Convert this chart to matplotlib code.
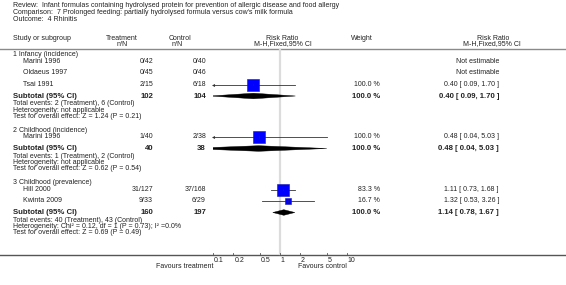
import numpy as np
import matplotlib
matplotlib.use("Agg")
import matplotlib.pyplot as plt
from matplotlib.patches import Polygon

# ---------------- data ----------------
title_lines = [
    "Review:  Infant formulas containing hydrolysed protein for prevention of allergic disease and food allergy",
    "Comparison:  7 Prolonged feeding: partially hydrolysed formula versus cow's milk formula",
    "Outcome:  4 Rhinitis",
]
groups = ["1 Infancy (incidence)", "2 Childhood (incidence)", "3 Childhood (prevalence)"]

study_names = ["Marini 1996", "Oldaeus 1997", "Tsai 1991", "Marini 1996", "Hill 2000", "Kwinta 2009"]
study_group = [0, 0, 0, 1, 2, 2]
treat_events = [0, 0, 2, 1, 31, 9]
treat_total = [42, 45, 15, 40, 127, 33]
ctrl_events = [0, 0, 6, 2, 37, 6]
ctrl_total = [40, 46, 18, 38, 168, 29]
study_rr = [np.nan, np.nan, 0.40, 0.48, 1.11, 1.32]
study_lo = [np.nan, np.nan, 0.09, 0.04, 0.73, 0.53]
study_hi = [np.nan, np.nan, 1.70, 5.03, 1.68, 3.26]
study_weight = [np.nan, np.nan, 100.0, 100.0, 83.3, 16.7]

sub_treat_total = [102, 40, 160]
sub_ctrl_total = [104, 38, 197]
sub_treat_events = [2, 1, 40]
sub_ctrl_events = [6, 2, 43]
sub_rr = [0.40, 0.48, 1.14]
sub_lo = [0.09, 0.04, 0.78]
sub_hi = [1.70, 5.03, 1.67]
sub_weight = [100.0, 100.0, 100.0]
heterogeneity = ["Heterogeneity: not applicable",
                 "Heterogeneity: not applicable",
                 "Heterogeneity: Chi² = 0.12, df = 1 (P = 0.73); I² =0.0%"]
test_z = [1.24, 0.62, 0.69]
test_p = [0.21, 0.54, 0.49]

ticks = [0.1, 0.2, 0.5, 1, 2, 5, 10]
tick_labels = ["0.1", "0.2", "0.5", "1", "2", "5", "10"]

# ---------------- layout ----------------
W, H = 566, 285
group_y = [55, 130, 183]
study_y = [61.5, 73, 84.5, 137, 189.5, 201]
sub_y = [96, 148.5, 212.5]
info_dy = [7.5, 14, 20.5]

FONT = "Liberation Sans"
fs = 5.0
fsb = 5.6
col = "#222222"

fig = plt.figure(figsize=(W / 100, H / 100), dpi=100)
fig.patch.set_facecolor("white")
ax = fig.add_axes([0, 0, 1, 1])
ax.set_xlim(0, W)
ax.set_ylim(H, 0)
ax.axis("off")

def t(x, y, s, ha="left", bold=False, size=None, **kw):
    ax.text(x, y, s, ha=ha, va="center", fontsize=size or (fsb if bold else fs),
            fontweight="bold" if bold else "normal", family=FONT, color=col, **kw)

for i, line in enumerate(title_lines):
    t(13, 5.5 + 7 * i, line)

# headers
t(13, 38, "Study or subgroup")
t(122, 38, "Treatment", ha="center")
t(122, 44, "n/N", ha="center")
t(180, 38, "Control", ha="center")
t(177, 44, "n/N", ha="center")
t(282, 38, "Risk Ratio", ha="center")
t(283, 44, "M-H,Fixed,95% CI", ha="center")
t(362, 38, "Weight", ha="center")
t(493, 38, "Risk Ratio", ha="center")
t(492, 44, "M-H,Fixed,95% CI", ha="center")
ax.plot([0, W], [49, 49], color="#8a8a8a", lw=1.0)
ax.plot([0, W], [254.5, 254.5], color="#555555", lw=1.0)

# forest axes on log scale
x0, x1 = 213.33, 346.67
fx = fig.add_axes([x0 / W, 0, (x1 - x0) / W, 1])
fx.set_xscale("log")
fx.set_xlim(0.1, 10)
fx.set_ylim(H, 0)
fx.axis("off")
fx.patch.set_alpha(0)

fx.plot([1, 1], [49.5, 254], color="#dcdcdc", lw=1.6, zorder=1)

for g in range(3):
    t(13, group_y[g], groups[g])

for i, name in enumerate(study_names):
    y = study_y[i]
    t(23, y, name)
    t(153, y, f"{treat_events[i]}/{treat_total[i]}", ha="right")
    t(206, y, f"{ctrl_events[i]}/{ctrl_total[i]}", ha="right")
    if np.isnan(study_rr[i]):
        t(499, y, "Not estimable", ha="right")
        continue
    t(380, y, f"{study_weight[i]:.1f} %", ha="right")
    t(499, y, f"{study_rr[i]:.2f} [ {study_lo[i]:.2f}, {study_hi[i]:.2f} ]", ha="right")
    lo = max(study_lo[i], 0.1)
    fx.plot([lo, study_hi[i]], [y, y], color="#333333", lw=0.6, zorder=2, clip_on=False)
    if study_lo[i] < 0.1:
        fx.plot([0.1], [y], marker="<", ms=2.2, color="#333333", mew=0, zorder=2, clip_on=False)
    side = 12.7 * np.sqrt(study_weight[i] / 100.0)
    fx.scatter([study_rr[i]], [y], marker="s", s=(side * 0.72) ** 2, color="#0000ff",
               edgecolor="#1a1aa0", linewidth=0.4, zorder=3, clip_on=False)
    fx.plot([study_rr[i], study_rr[i]], [y - 0.8, y + 0.8], color="#222266", lw=0.4, zorder=4)

for g in range(3):
    y = sub_y[g]
    t(13, y, "Subtotal (95% CI)", bold=True)
    t(153, y, f"{sub_treat_total[g]}", ha="right", bold=True)
    t(206, y, f"{sub_ctrl_total[g]}", ha="right", bold=True)
    t(380, y, f"{sub_weight[g]:.1f} %", ha="right", bold=True)
    t(499, y, f"{sub_rr[g]:.2f} [ {sub_lo[g]:.2f}, {sub_hi[g]:.2f} ]", ha="right", bold=True)
    t(13, y + info_dy[0], f"Total events: {sub_treat_events[g]} (Treatment), {sub_ctrl_events[g]} (Control)")
    t(13, y + info_dy[1], heterogeneity[g])
    t(13, y + info_dy[2], f"Test for overall effect: Z = {test_z[g]:.2f} (P = {test_p[g]:.2f})")
    h = 2.8
    poly = Polygon([(sub_lo[g], y), (sub_rr[g], y - h), (sub_hi[g], y), (sub_rr[g], y + h)],
                   closed=True, facecolor="black", edgecolor="black", lw=0.3, zorder=3)
    fx.add_patch(poly)

# ticks
for tk, lab in zip(ticks, tick_labels):
    fx.plot([tk, tk], [252.5, 254.5], color="#555555", lw=0.6, clip_on=False)
    fx.text(tk * 1.03, 260, lab, ha="left", va="center", fontsize=fs, family=FONT, color=col,
            clip_on=False)
fx.text(0.1, 267, "Favours treatment", ha="right", va="center", fontsize=fs, family=FONT, color=col)
fx.text(1.85, 267, "Favours control", ha="left", va="center", fontsize=fs, family=FONT, color=col)

fig.savefig("out.png", dpi=100, facecolor="white")
